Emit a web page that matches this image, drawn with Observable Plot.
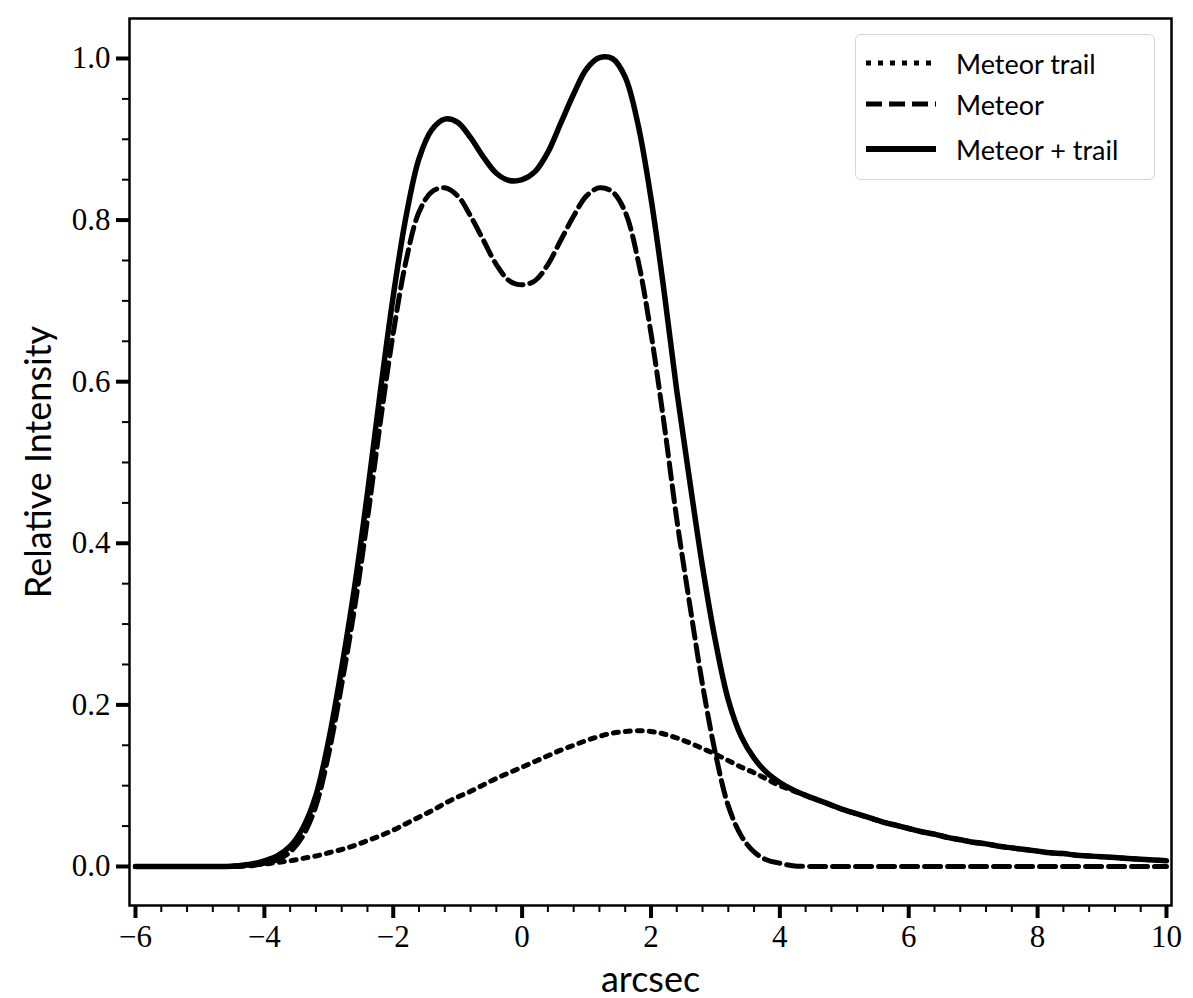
<!DOCTYPE html>
<html>
<head>
<meta charset="utf-8">
<script src="https://cdn.jsdelivr.net/npm/d3@7"></script>
<script src="https://cdn.jsdelivr.net/npm/@observablehq/plot@0.6"></script>
<style>
  html, body { margin: 0; padding: 0; background: #fff; }
  #wrap { position: relative; width: 1193px; height: 998px; }
  #legend {
    position: absolute; left: 855px; top: 34px; width: 298px; height: 144px;
    border: 1.5px solid #d6d6d6; border-radius: 6px; background: #fff;
    font-family: Lato, "DejaVu Sans", sans-serif; font-size: 27px; color: #000;
  }
  .row { position: absolute; left: 0; height: 40px; display: flex; align-items: center; }
  .row svg { margin-left: 10px; }
  .row span { margin-left: 20px; }
</style>
</head>
<body>
<div id="wrap"></div>
<script>
// x positions (arcsec)
const xs = d3.range(81).map(i => +(-6 + i * 0.2).toFixed(1));

// Meteor trail (dotted)
const trail = [
  0,0,0,0,0,0,0,0,
  0.001,0.002,0.003,0.005,0.007,0.010,0.013,0.017,0.021,0.026,0.032,0.038,
  0.045,0.053,0.061,0.069,0.078,0.086,0.093,0.101,0.109,0.116,
  0.123,0.130,0.137,0.144,0.150,0.156,0.161,0.165,0.167,0.168,
  0.167,0.164,0.159,0.153,0.146,0.139,0.131,0.123,0.116,0.108,
  0.100,0.094,0.088,0.082,0.076,0.070,0.065,0.060,0.055,0.051,
  0.047,0.043,0.040,0.036,0.033,0.030,0.028,0.025,0.023,0.021,
  0.019,0.017,0.016,0.014,0.013,0.012,0.011,0.010,0.009,0.008,0.007
];

// Meteor (dashed)
const meteor = [
  0,0,0,0,0,0,0,0,0,
  0.001,0.004,0.008,0.018,0.038,0.075,0.140,0.225,0.320,0.430,0.550,
  0.660,0.750,0.810,0.835,0.840,0.830,0.805,0.775,0.745,0.725,
  0.720,0.725,0.745,0.775,0.805,0.830,0.840,0.835,0.810,0.750,
  0.660,0.550,0.430,0.325,0.225,0.140,0.075,0.038,0.018,0.008,
  0.004,0.001,0,0,0,0,0,0,0,0,
  0,0,0,0,0,0,0,0,0,0,
  0,0,0,0,0,0,0,0,0,0,0
];

// Meteor + trail (solid)
const combined = [
  0,0,0,0,0,0,0,0,
  0.001,0.003,0.007,0.013,0.025,0.048,0.088,0.157,0.246,0.346,0.462,0.588,
  0.706,0.805,0.876,0.912,0.925,0.921,0.902,0.878,0.858,0.849,
  0.850,0.860,0.884,0.920,0.956,0.987,1.001,1.000,0.977,0.918,
  0.827,0.714,0.589,0.478,0.371,0.279,0.206,0.161,0.134,0.116,
  0.104,0.095,0.088,0.082,0.076,0.070,0.065,0.060,0.055,0.051,
  0.047,0.043,0.040,0.036,0.033,0.030,0.028,0.025,0.023,0.021,
  0.019,0.017,0.016,0.014,0.013,0.012,0.011,0.010,0.009,0.008,0.007
];

const xMajor = [-6, -4, -2, 0, 2, 4, 6, 8, 10];
const xMinor = d3.range(-6, 10.01, 0.4).map(v => +v.toFixed(1)).filter(v => !xMajor.includes(v));
const yMajor = [0, 0.2, 0.4, 0.6, 0.8, 1.0];
const yMinor = d3.range(0, 1.0001, 0.05).map(v => +v.toFixed(2)).filter(v => !yMajor.some(m => Math.abs(m - v) < 1e-9));

const seriesNames = ["Meteor trail", "Meteor", "Meteor + trail"];
const mk = (arr, s) => xs.map((x, i) => ({x, y: arr[i], s}));
const dTrail = mk(trail, seriesNames[0]);
const dMeteor = mk(meteor, seriesNames[1]);
const dComb = mk(combined, seriesNames[2]);

const tickFont = "'Liberation Serif', 'DejaVu Serif', serif";
const labelFont = "Lato, 'DejaVu Sans', sans-serif";

const chart = Plot.plot({
  width: 1193,
  height: 998,
  marginLeft: 129,
  marginRight: 22,
  marginTop: 18,
  marginBottom: 93,
  x: {domain: [-6.093, 10.078]},
  y: {domain: [-0.0483, 1.0495]},
  style: {background: "#fff", color: "#000"},
  marks: [
    Plot.line(dTrail, {x: "x", y: "y", stroke: "#000", strokeWidth: 5, strokeDasharray: "5,7", curve: "catmull-rom"}),
    Plot.line(dMeteor, {x: "x", y: "y", stroke: "#000", strokeWidth: 5, strokeDasharray: "16,7", curve: "catmull-rom"}),
    Plot.line(dComb, {x: "x", y: "y", stroke: "#000", strokeWidth: 5.5, curve: "catmull-rom"}),
    Plot.frame({stroke: "#000", strokeWidth: 2.5}),
    Plot.axisX(xMinor, {tickSize: 7, strokeWidth: 2, text: null, label: null}),
    Plot.axisX(xMajor, {tickSize: 13, strokeWidth: 4, tickPadding: 6, fontSize: 31, fontFamily: tickFont,
      label: "arcsec", labelAnchor: "center", labelArrow: "none", labelOffset: 86}),
    Plot.axisY(yMinor, {tickSize: 7, strokeWidth: 2, text: null, label: null}),
    Plot.axisY(yMajor, {tickSize: 13, strokeWidth: 4, tickPadding: 6, fontSize: 31, fontFamily: tickFont,
      tickFormat: d3.format(".1f"),
      label: "Relative Intensity", labelAnchor: "center", labelArrow: "none", labelOffset: 104})
  ]
});

// Style axis labels (sans) vs tick labels (serif)
chart.querySelectorAll("[aria-label='x-axis label'] text, [aria-label='y-axis label'] text").forEach(t => {
  t.setAttribute("font-family", labelFont);
  t.setAttribute("font-size", "36");
});
// Tick stroke widths: first group minor, second major
["x-axis tick", "y-axis tick"].forEach(lbl => {
  const gs = chart.querySelectorAll(`g[aria-label='${lbl}']`);
  if (gs[0]) gs[0].setAttribute("stroke-width", "2");
  if (gs[1]) gs[1].setAttribute("stroke-width", "4");
});

const wrap = document.getElementById("wrap");
wrap.appendChild(chart);

// Legend
const legend = document.createElement("div");
legend.id = "legend";
const styles = [
  {dash: "5,7", w: 5},
  {dash: "16,7", w: 5},
  {dash: null, w: 6}
];
const tops = [8, 49, 94];
seriesNames.forEach((name, i) => {
  const row = document.createElement("div");
  row.className = "row";
  row.style.top = tops[i] + "px";
  const st = styles[i];
  row.innerHTML = `<svg width="70" height="12"><line x1="0" y1="6" x2="70" y2="6" stroke="#000" stroke-width="${st.w}" ${st.dash ? `stroke-dasharray="${st.dash}"` : ""}/></svg><span>${name}</span>`;
  legend.appendChild(row);
});
wrap.appendChild(legend);
</script>
</body>
</html>
